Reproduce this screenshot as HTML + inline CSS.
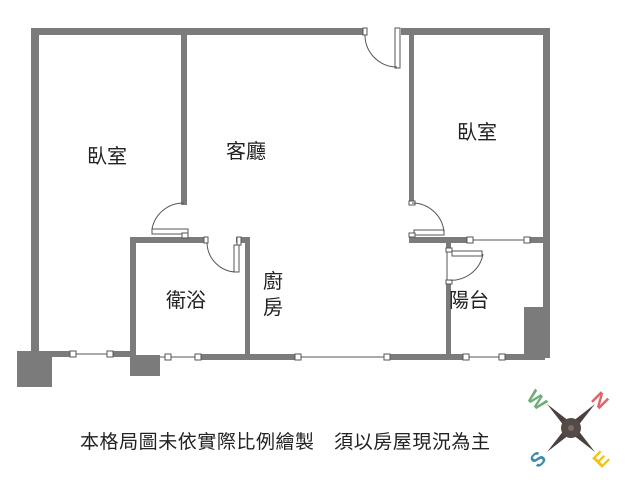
<!DOCTYPE html>
<html><head><meta charset="utf-8"><style>
body{margin:0;background:#fff;width:628px;height:480px;overflow:hidden}
svg{display:block}
text{font-family:"Liberation Sans","Noto Sans CJK TC",sans-serif;fill:#222}
</style></head><body>
<svg width="628" height="480" viewBox="0 0 628 480">
<g fill="#7b7b7b">
<rect x="31" y="28" width="334" height="7"/>
<rect x="401" y="28" width="149" height="7"/>
<rect x="31" y="28" width="8" height="325"/>
<rect x="543" y="28" width="7" height="330"/>
<rect x="524" y="307" width="26" height="51"/>
<rect x="17" y="351" width="35" height="36"/>
<rect x="52" y="351" width="18" height="6"/>
<rect x="113" y="351" width="20" height="6"/>
<rect x="130" y="237" width="6" height="121"/>
<rect x="130" y="237" width="74" height="6"/>
<rect x="236" y="237" width="14" height="6"/>
<rect x="245" y="237" width="5" height="120"/>
<rect x="130" y="355" width="30" height="21"/>
<rect x="200" y="354" width="97" height="6"/>
<rect x="390" y="354" width="73" height="6"/>
<rect x="505" y="354" width="40" height="6"/>
<rect x="181" y="35" width="6" height="170"/>
<rect x="409" y="35" width="5" height="167"/>
<rect x="409" y="237" width="58" height="6"/>
<rect x="530" y="237" width="20" height="6"/>
<rect x="446" y="243" width="5" height="7"/>
<rect x="446" y="282" width="5" height="76"/>
</g>
<g fill="none" stroke="#555" stroke-width="1">
<line x1="70" y1="354" x2="113" y2="354"/>
<rect x="70" y="351" width="6" height="6" fill="#fff"/><rect x="107" y="351" width="6" height="6" fill="#fff"/>
<line x1="160" y1="357" x2="200" y2="357"/>
<rect x="165" y="354" width="6" height="6" fill="#fff"/><rect x="195" y="354" width="6" height="6" fill="#fff"/>
<line x1="297" y1="357" x2="390" y2="357"/>
<rect x="295" y="354" width="6" height="6" fill="#fff"/><rect x="384" y="354" width="6" height="6" fill="#fff"/>
<line x1="463" y1="357" x2="505" y2="357"/>
<rect x="463" y="354" width="6" height="6" fill="#fff"/><rect x="499" y="354" width="6" height="6" fill="#fff"/>
<line x1="467" y1="240" x2="530" y2="240"/>
<rect x="467" y="237" width="6" height="6" fill="#fff"/><rect x="524" y="237" width="6" height="6" fill="#fff"/>
<rect x="363" y="28" width="4" height="7" fill="#fff"/>
<rect x="395" y="28" width="5" height="40" fill="#fff"/>
<path d="M365 35 A32 32 0 0 0 397 67"/>
<rect x="152" y="229" width="36" height="5" fill="#fff"/>
<rect x="182" y="233" width="6" height="5" fill="#fff"/>
<path d="M152 229 A32 32 0 0 1 184 203"/>
<rect x="204" y="237" width="4" height="6" fill="#fff"/>
<rect x="234" y="245" width="5" height="27" fill="#fff"/>
<rect x="237" y="237" width="4" height="8" fill="#fff"/>
<path d="M207 243 A30 30 0 0 0 236 272"/>
<rect x="409" y="201" width="6" height="4" fill="#fff"/>
<rect x="414" y="230" width="30" height="5" fill="#fff"/>
<rect x="409" y="233" width="6" height="4" fill="#fff"/>
<path d="M412 203 A32 32 0 0 1 444 232"/>
<rect x="446" y="248" width="6" height="4" fill="#fff"/>
<rect x="452" y="251" width="30" height="5" fill="#fff"/>
<rect x="446" y="280" width="6" height="4" fill="#fff"/>
<line x1="447" y1="252" x2="447" y2="280"/>
<path d="M448 280 A32 32 0 0 0 483 254"/>
</g>
<g font-size="20">
<text x="87" y="163">臥室</text>
<text x="226" y="158">客廳</text>
<text x="457" y="139">臥室</text>
<text x="166" y="307">衛浴</text>
<text x="263" y="288">廚</text>
<text x="263" y="314">房</text>
<text x="449" y="307">陽台</text>
</g>
<text x="80" y="448" font-size="19" textLength="410" lengthAdjust="spacing">本格局圖未依實際比例繪製　須以房屋現況為主</text>
<g transform="translate(571,428)">
<polygon points="-24,-24 3,-3 0,0 -3,3" fill="#4a403c"/>
<polygon points="24,-24 3,3 0,0 -3,-3" fill="#4a403c"/>
<polygon points="-24,24 -3,-3 0,0 3,3" fill="#4a403c"/>
<polygon points="24,24 -3,3 0,0 3,-3" fill="#4a403c"/>
<circle r="10" fill="#554a45"/>
<circle r="3" fill="#7a6e69"/>
<text x="-43" y="-22" font-size="20" font-weight="bold" style="fill:#6fae78" transform="rotate(45 -35 -29)">W</text>
<text x="22" y="-21" font-size="20" font-weight="bold" style="fill:#e06468" transform="rotate(45 29 -28)">N</text>
<text x="-40" y="38" font-size="20" font-weight="bold" style="fill:#3f8cad" transform="rotate(-45 -33 31)">S</text>
<text x="23" y="38" font-size="20" font-weight="bold" style="fill:#f2c21b" transform="rotate(-45 30 31)">E</text>
</g>
</svg>
</body></html>
